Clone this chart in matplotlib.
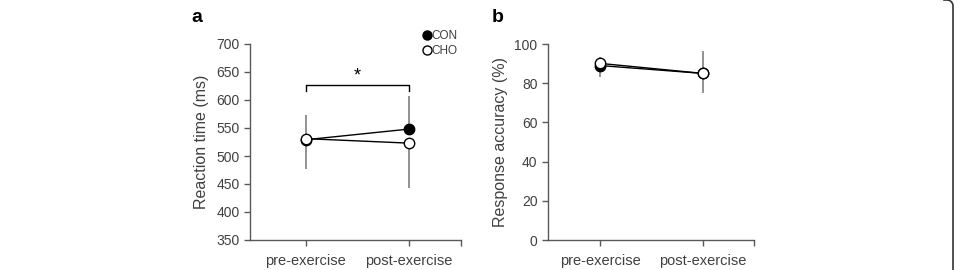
import numpy as np
import matplotlib.pyplot as plt
from matplotlib.lines import Line2D

plt.rcParams['font.family'] = ['Liberation Sans', 'DejaVu Sans']

phases = ['pre-exercise', 'post-exercise']

# panel a: reaction time (ms)
rt_con = [529, 548]
rt_cho = [531, 523]
rt_con_err_up = [44, 59]
rt_cho_err_dn = [54, 80]

# panel b: response accuracy (%)
acc_con = [89, 85]
acc_cho = [90.1, 85]
acc_con_err_dn = [5.7, 10.2]
acc_cho_err_up = [3.4, 11.6]

txt = '#404040'
axc = '#595959'
errc = '#7f7f7f'

fig = plt.figure(figsize=(9.57, 2.70), dpi=100)
ax1 = fig.add_axes([250/957, 1-240/270, 211/957, 196/270])
ax2 = fig.add_axes([548/957, 1-240/270, 206/957, 196/270])

x = np.array([1, 2])


def style(ax, xlim):
    for s in ['top', 'right']:
        ax.spines[s].set_visible(False)
    for s in ['left', 'bottom']:
        ax.spines[s].set_color(axc)
        ax.spines[s].set_linewidth(1.0)
    ax.set_xlim(*xlim)
    ax.set_xticks([1, 2, xlim[1]])
    ax.set_xticklabels(phases + [''])
    ax.tick_params(axis='both', colors=axc, labelcolor=txt, labelsize=10,
                   length=4, width=1.0)
    ax.tick_params(axis='x', labelsize=10.5, pad=6)


def draw(ax, con, cho, con_yerr, cho_yerr):
    ax.errorbar(x, con, yerr=con_yerr, fmt='none', ecolor=errc, elinewidth=1.2,
                capsize=0, zorder=1)
    ax.errorbar(x, cho, yerr=cho_yerr, fmt='none', ecolor=errc, elinewidth=1.2,
                capsize=0, zorder=1)
    ax.plot(x, con, '-o', color='black', lw=1.0, ms=7.5, mfc='black',
            mec='black', zorder=3)
    ax.plot(x, cho, '-o', color='black', lw=1.0, ms=7.5, mfc='white',
            mec='black', mew=1.0, zorder=4)


# panel a
draw(ax1, rt_con, rt_cho,
     [[0, 0], rt_con_err_up], [rt_cho_err_dn, [0, 0]])
style(ax1, (0.46, 2.51))
ax1.set_ylim(350, 700)
ax1.set_yticks(np.arange(350, 701, 50))
ax1.set_ylabel('Reaction time (ms)', fontsize=11.5, color=txt, labelpad=5)
ax1.plot([1, 1, 2, 2], [616, 626, 626, 616], color='black', lw=1.0)
ax1.text(1.5, 628, '*', ha='center', va='bottom', fontsize=13, color='black')

handles = [Line2D([], [], ls='none', marker='o', ms=6.5, mfc='black', mec='black'),
           Line2D([], [], ls='none', marker='o', ms=6.5, mfc='white', mec='black')]
fig.legend(handles, ['CON', 'CHO'], loc='center left',
           bbox_to_anchor=(418/957, 1-43.5/270), frameon=False, fontsize=8.5,
           handlelength=0.6, handletextpad=0.05, labelspacing=0.3,
           borderpad=0, labelcolor=txt)

# panel b
draw(ax2, acc_con, acc_cho,
     [acc_con_err_dn, [0, 0]], [[0, 0], acc_cho_err_up])
style(ax2, (0.49, 2.5))
ax2.set_ylim(0, 100)
ax2.set_yticks(np.arange(0, 101, 20))
ax2.set_ylabel('Response accuracy (%)', fontsize=11.5, color=txt, labelpad=5)

fig.text(197/957, 1-17/270, 'a', fontsize=14, fontweight='bold', ha='center',
         va='center')
fig.text(498/957, 1-17/270, 'b', fontsize=14, fontweight='bold', ha='center',
         va='center')

# page frame edge on the right
t = np.linspace(0, np.pi/2, 20)
r = 6
fx = np.concatenate([[953 - r - 3], 953 - r + r*np.sin(t), [953]])
fy = np.concatenate([[0], r - r*np.cos(t), [270]])
fig.add_artist(Line2D(fx/957, 1 - fy/270, color='#333333', lw=1.2))

fig.savefig('out.png', dpi=100)
